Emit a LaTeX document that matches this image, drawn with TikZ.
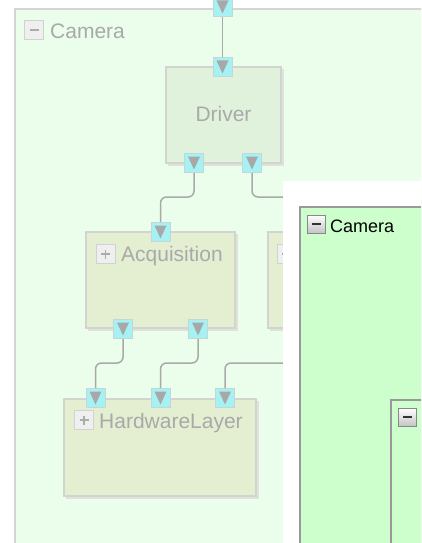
\documentclass[tikz,border=0pt]{standalone}
\usepackage{fontspec}
\setmainfont{Liberation Sans}
\definecolor{outerbg}{HTML}{EBFDEB}
\definecolor{outerln}{HTML}{D4D6D4}
\definecolor{drvfill}{HTML}{E0F2DC}
\definecolor{subfill}{HTML}{E4EFD2}
\definecolor{boxln}{HTML}{D2D4D0}
\definecolor{shadowc}{HTML}{DEE2DB}
\definecolor{portfill}{HTML}{A6F1F4}
\definecolor{portln}{HTML}{C4D6D6}
\definecolor{tri}{HTML}{A8A8A8}
\definecolor{wire}{HTML}{A9A9A9}
\definecolor{fadetext}{HTML}{A9A9A9}
\definecolor{btnfill}{HTML}{EFEFEF}
\definecolor{btnln}{HTML}{D2D2D2}
\definecolor{btnsym}{HTML}{ABABAB}
\definecolor{hot}{HTML}{CCFFCC}
\definecolor{hotln}{HTML}{999999}
\definecolor{hotbtnln}{HTML}{888888}
\definecolor{hotbtnbot}{HTML}{C4C4C4}
\tikzset{
  comp/.style={draw=boxln, line width=1.5pt, inner sep=0pt},
  port/.style={draw=portln, fill=portfill, line width=1pt, minimum size=19pt, inner sep=0pt,
    path picture={\fill[tri] ([shift={(3.5pt,-3pt)}]path picture bounding box.north west) -- ([shift={(-3.5pt,-3pt)}]path picture bounding box.north east) -- ([shift={(0pt,3pt)}]path picture bounding box.south) -- cycle;}},
  wirestyle/.style={draw=wire, line width=1.5pt, rounded corners=6pt},
  fadebtn/.style={draw=btnln, fill=btnfill, line width=1pt, minimum width=19pt, minimum height=19pt, inner sep=0pt},
  hotbtn/.style={draw=hotbtnln, top color=white, bottom color=hotbtnbot, line width=1pt, minimum width=18pt, minimum height=18pt, inner sep=0pt},
  minussign/.style={path picture={\draw[line width=1.6pt, color=#1] ([xshift=-4.5pt]path picture bounding box.center) -- ([xshift=4.5pt]path picture bounding box.center);}},
  plussign/.style={path picture={\draw[line width=1.6pt, color=#1] ([xshift=-4.5pt]path picture bounding box.center) -- ([xshift=4.5pt]path picture bounding box.center) ([yshift=-4.5pt]path picture bounding box.center) -- ([yshift=4.5pt]path picture bounding box.center);}},
  fadelabel/.style={anchor=base west, text=fadetext, inner sep=0pt, font=\fontsize{21}{24}\selectfont},
  hotlabel/.style={anchor=base west, text=black, inner sep=0pt, font=\fontsize{18}{21}\selectfont}
}
\begin{document}
\begin{tikzpicture}[x=1pt,y=-1pt]
\useasboundingbox (0,0) rectangle (421,543);
\clip (0,0) rectangle (421,543);
\fill[white] (0,0) rectangle (421,543);
% outer faded container
\draw[fill=outerbg, draw=outerln, line width=2pt] (15,9) rectangle (440,560);
\node[fadebtn, minussign=btnsym] (camminus) at (34,30) {};
\node[fadelabel] (camlbl) at (50,38) {Camera};
% shadows
\fill[shadowc] (168,69) rectangle (283.5,165.5);
\fill[shadowc] (88,234) rectangle (237.5,330.5);
\fill[shadowc] (270,234) rectangle (419.5,330.5);
\fill[shadowc] (66,401) rectangle (258.5,498.5);
% component boxes
\node[comp, fill=drvfill, minimum width=115pt, minimum height=96pt] (driver) at (223.5,115) {};
\node[comp, fill=subfill, minimum width=149pt, minimum height=96pt] (acq) at (160.5,280) {};
\node[comp, fill=subfill, minimum width=149pt, minimum height=96pt] (other) at (342.5,280) {};
\node[comp, fill=subfill, minimum width=192pt, minimum height=97pt] (hw) at (160,447.5) {};
% labels
\node[text=fadetext, inner sep=0pt, anchor=base, font=\fontsize{21}{24}\selectfont] (drvlbl) at (223.5,121.5) {Driver};
\node[fadebtn, plussign=btnsym] (acqplus) at (105.5,254) {};
\node[fadelabel] (acqlbl) at (121,261) {Acquisition};
\node[fadebtn, plussign=btnsym] (othplus) at (286.5,254) {};
\node[fadebtn, plussign=btnsym] (hwplus) at (84,420) {};
\node[fadelabel] (hwlbl) at (99,428.5) {HardwareLayer};
% ports
\node[port] (ptop) at (222.5,7) {};
\node[port] (drvin) at (222.5,67) {};
\node[port] (drvl) at (194,163) {};
\node[port] (drvr) at (252,163) {};
\node[port] (acqin) at (160.5,232) {};
\node[port] (acql) at (123,329) {};
\node[port] (acqr) at (198,329) {};
\node[port] (hw1) at (95.5,398) {};
\node[port] (hw2) at (160.5,398) {};
\node[port] (hw3) at (225,398) {};
% hidden ends
\coordinate (o1) at (300,197);
\coordinate (o2) at (300,363);
% connectors
\draw[wirestyle] (ptop.south) -- (drvin.north);
\draw[wirestyle] (drvl.south) -- ++(0,24) -| (acqin.north);
\draw[wirestyle] (drvr.south) |- (o1);
\draw[wirestyle] (acql.south) -- ++(0,24) -| (hw1.north);
\draw[wirestyle] (acqr.south) -- ++(0,24) -| (hw2.north);
\draw[wirestyle] (o2) -| (hw3.north);
% overlay panel
\fill[white] (283,181) rectangle (440,560);
\draw[fill=hot, draw=hotln, line width=2pt] (300,207) rectangle (450,570);
\node[hotbtn, minussign=black!80] (hotminus) at (316,224) {};
\node[hotlabel] (hotlbl) at (330,232) {Camera};
\draw[fill=hot, draw=hotln, line width=2pt] (391,400) rectangle (460,580);
\node[hotbtn, minussign=black!80] (innerminus) at (407.5,417) {};
\end{tikzpicture}
\end{document}
